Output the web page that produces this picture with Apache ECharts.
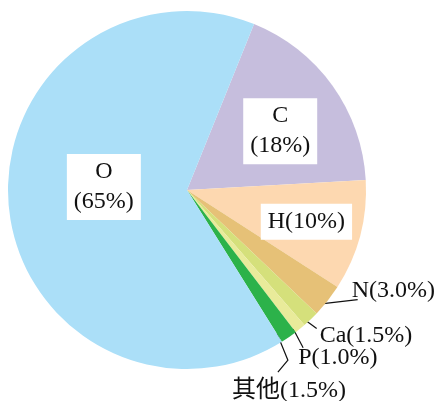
<!DOCTYPE html>
<html>
<head>
<meta charset="utf-8">
<script src="https://cdn.jsdelivr.net/npm/echarts@6/dist/echarts.min.js"></script>
<style>
  html, body { margin: 0; padding: 0; background: #fff; }
  #chart { width: 439px; height: 401px; }
</style>
</head>
<body>
<div id="chart"></div>
<script>
// Element composition of the human body (mass fraction, %)
const elements = ['C', 'H', 'N', 'Ca', 'P', '其他', 'O'];
const percents = [18, 10, 3.0, 1.5, 1.0, 1.5, 65];
const labelTexts = ['C\n(18%)', 'H(10%)', 'N(3.0%)', 'Ca(1.5%)', 'P(1.0%)', '其他(1.5%)', 'O\n(65%)'];
const colors = ['#c6bedd', '#fdd8b0', '#e6c177', '#d5e07b', '#e9eb9a', '#2cb24a', '#abdff8'];

const FONT = '"Liberation Serif", "Noto Sans CJK SC", serif';
const insideSet = { 'C': true, 'H': true, 'O': true };

// Per-label placement: inside labels are nudged from the default spot,
// outside labels hang off the slice edge with a short leader line.
const insideShift = {
  'C': [18, -5],
  'H': [30, 8],
  'O': [9, -11]
};
const outsideShape = {
  'N':   { text: [24, -10], line: [[-13, 4], [30, -1]] },
  'Ca':  { text: [9, 16],   line: [[-9, -2], [6, 9]] },
  'P':   { text: [-2, 29],  line: [[-7, 0], [3, 19]] },
  '其他': { text: [-57, 54], line: [[-12, -4], [-1, 23], [-11, 35]] }
};

const seriesData = elements.map((name, i) => {
  const inside = insideSet[name];
  return {
    name: name,
    value: percents[i],
    itemStyle: { color: colors[i] },
    label: inside ? {
      position: 'inside',
      formatter: labelTexts[i],
      backgroundColor: '#ffffff',
      padding: [3, 7, 3, 7],
      lineHeight: 30,
      align: 'center'
    } : {
      position: 'outside',
      formatter: labelTexts[i],
      lineHeight: 26
    },
    labelLine: inside ? { show: false } : { show: true }
  };
});

const chart = echarts.init(document.getElementById('chart'), null, { renderer: 'canvas' });

chart.setOption({
  animation: false,
  backgroundColor: '#ffffff',
  series: [{
    type: 'pie',
    center: [187, 190],
    radius: [0, 179],
    startAngle: 68,
    clockwise: true,
    avoidLabelOverlap: false,
    data: seriesData,
    itemStyle: { borderWidth: 0 },
    label: {
      fontFamily: FONT,
      fontSize: 24,
      color: '#111111'
    },
    labelLine: {
      lineStyle: { color: '#111111', width: 1.2 },
      length: 10,
      length2: 10
    },
    labelLayout: function (params) {
      const name = elements[params.dataIndex];
      if (insideSet[name]) {
        const s = insideShift[name];
        return { dx: s[0], dy: s[1] };
      }
      const shape = outsideShape[name];
      const pts = params.labelLinePoints;
      if (!pts || !shape) return {};
      const edge = pts[0];
      const linePts = shape.line.map(p => [edge[0] + p[0], edge[1] + p[1]]);
      return {
        x: edge[0] + shape.text[0],
        y: edge[1] + shape.text[1],
        align: 'left',
        verticalAlign: 'middle',
        labelLinePoints: linePts
      };
    }
  }]
});
</script>
</body>
</html>
